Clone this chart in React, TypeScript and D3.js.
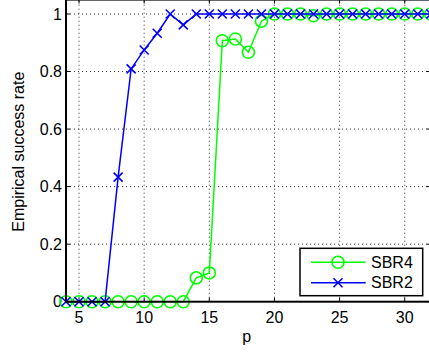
import React from "react";
import * as d3 from "d3";

const pValues = [4,5,6,7,8,9,10,11,12,13,14,15,16,17,18,19,20,21,22,23,24,25,26,27,28,29,30,31,32];
const sbr4 = [0,0,0,0,0,0,0,0,0,0,0.083,0.1,0.907,0.913,0.867,0.975,1,1,1,0.994,1,1,1,1,1,1,1,1,1];
const sbr2 = [0,0,0,0,0.433,0.809,0.875,0.933,1,0.962,1,1,1,1,1,1,1,1,1,1,1,1,1,1,1,1,1,1,1];
const xTicks = [5,10,15,20,25,30];
const yTicks = [0,0.2,0.4,0.6,0.8,1];
const yTickLabels = ["0","0.2","0.4","0.6","0.8","1"];
const seriesNames = ["SBR4","SBR2"];

const W = 429, H = 358;
const font = "'Liberation Sans', Arial, Helvetica, sans-serif";

export default function App() {
  const x = d3.scaleLinear().domain([4, 32]).range([66, 430.8]);
  const y = d3.scaleLinear().domain([0, 1.05]).range([301.7, -0.4]);
  const [x0, x1] = x.range();
  const [y0, y1] = y.range();
  const line = d3.line<[number, number]>().x(d => x(d[0])).y(d => y(d[1]));
  const g4 = pValues.map((p, i) => [p, sbr4[i]] as [number, number]);
  const g2 = pValues.map((p, i) => [p, sbr2[i]] as [number, number]);
  const green = "#00ff00", blue = "#0000ff";
  const cross = (cx: number, cy: number, k: string, s = 4.5) => (
    <path key={k} d={`M${cx - s},${cy - s}L${cx + s},${cy + s}M${cx - s},${cy + s}L${cx + s},${cy - s}`} stroke={blue} strokeWidth={1.6} fill="none" />
  );
  return (
    <svg width={W} height={H} style={{ position: "absolute", left: 0, top: 0 }} fontFamily={font}>
      <rect x={0} y={0} width={W} height={H} fill="#fff" />
      {/* grid */}
      {xTicks.map(t => (
        <line key={"gx" + t} x1={x(t)} x2={x(t)} y1={y0} y2={y1} stroke="#333" strokeWidth={1} strokeDasharray="1,3" />
      ))}
      {yTicks.slice(1).map(t => (
        <line key={"gy" + t} x1={x0} x2={x1} y1={y(t)} y2={y(t)} stroke="#333" strokeWidth={1} strokeDasharray="1,3" />
      ))}
      {/* ticks */}
      {xTicks.map(t => (
        <g key={"tx" + t}>
          <line x1={x(t)} x2={x(t)} y1={y0} y2={y0 - 4} stroke="#000" strokeWidth={1} />
          <line x1={x(t)} x2={x(t)} y1={y1} y2={y1 + 4} stroke="#000" strokeWidth={1} />
          <text x={x(t)} y={323} textAnchor="middle" fontSize={16}>{t}</text>
        </g>
      ))}
      {yTicks.map((t, i) => (
        <g key={"ty" + t}>
          <line x1={x0} x2={x0 + 4} y1={y(t)} y2={y(t)} stroke="#000" strokeWidth={1} />
          <line x1={x1} x2={x1 - 4} y1={y(t)} y2={y(t)} stroke="#000" strokeWidth={1} />
          <text x={62} y={y(t)} dy="0.36em" textAnchor="end" fontSize={16}>{yTickLabels[i]}</text>
        </g>
      ))}
      {/* series */}
      <path d={line(g4) || ""} stroke={green} strokeWidth={1.5} fill="none" />
      {g4.map((d, i) => (
        <circle key={"c" + i} cx={x(d[0])} cy={y(d[1])} r={6} stroke={green} strokeWidth={1.6} fill="none" />
      ))}
      <path d={line(g2) || ""} stroke={blue} strokeWidth={1.5} fill="none" />
      {g2.map((d, i) => cross(x(d[0]), y(d[1]), "x" + i))}
      {/* axes box */}
      <rect x={x0} y={y1} width={x1 - x0} height={y0 - y1} fill="none" stroke="#000" strokeWidth={2} />
      {/* labels */}
      <text x={246.7} y={341.5} textAnchor="middle" fontSize={16}>p</text>
      <text transform="translate(24,151.7) rotate(-90)" textAnchor="middle" fontSize={16}>Empirical success rate</text>
      {/* legend */}
      <rect x={300} y={248.3} width={122.7} height={47.4} fill="#fff" stroke="#000" strokeWidth={1.5} />
      <line x1={311} x2={365.7} y1={262.3} y2={262.3} stroke={green} strokeWidth={1.5} />
      <circle cx={338} cy={262.3} r={6} stroke={green} strokeWidth={1.6} fill="none" />
      <text x={371} y={262.3} dy="0.36em" fontSize={16}>{seriesNames[0]}</text>
      <line x1={311} x2={365.7} y1={282.7} y2={282.7} stroke={blue} strokeWidth={1.5} />
      {cross(338, 282.7, "lx")}
      <text x={371} y={282.7} dy="0.36em" fontSize={16}>{seriesNames[1]}</text>
    </svg>
  );
}
